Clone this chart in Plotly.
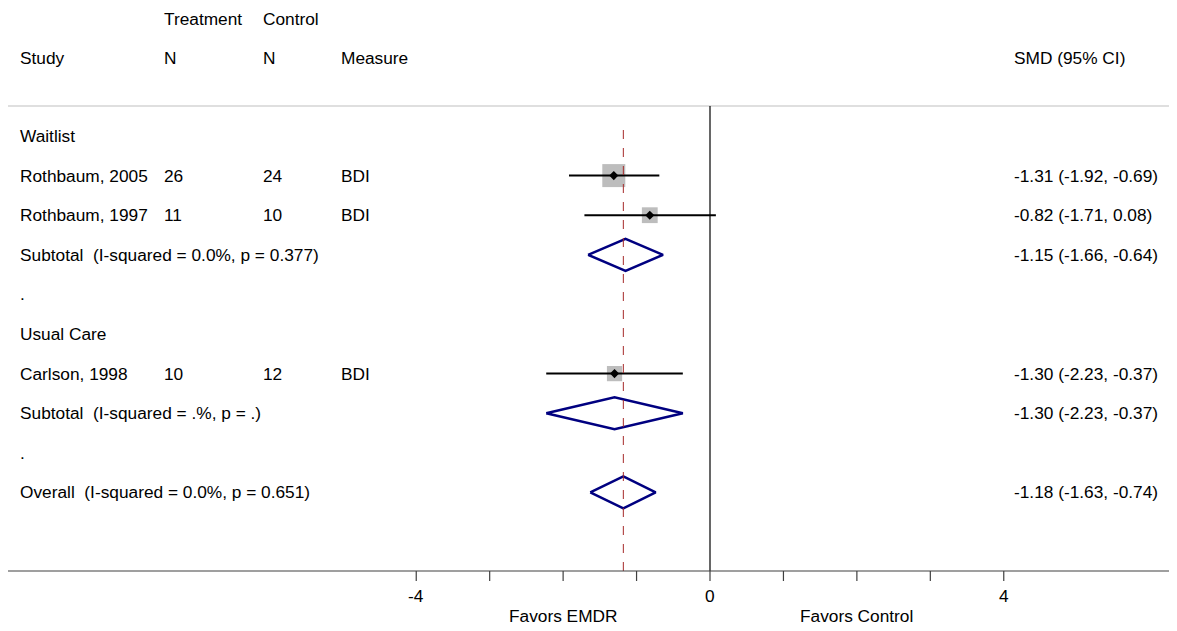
import plotly.graph_objects as go
import math

# ---------------- data ----------------
group_names = ["Waitlist", "Usual Care"]
study_labels = ["Rothbaum, 2005", "Rothbaum, 1997", "Carlson, 1998"]
study_group = [0, 0, 1]
treat_n = [26, 11, 10]
ctrl_n = [24, 10, 12]
measures = ["BDI", "BDI", "BDI"]
smd = [-1.31, -0.82, -1.30]
ci_lo = [-1.92, -1.71, -2.23]
ci_hi = [-0.69, 0.08, -0.37]
weights = [52.3, 24.7, 22.9]

sub_labels = ["Subtotal  (I-squared = 0.0%, p = 0.377)", "Subtotal  (I-squared = .%, p = .)"]
sub_smd = [-1.15, -1.30]
sub_lo = [-1.66, -2.23]
sub_hi = [-0.64, -0.37]

overall_label = "Overall  (I-squared = 0.0%, p = 0.651)"
overall_smd = -1.18
overall_lo = -1.63
overall_hi = -0.74

tick_vals = [-4, -3, -2, -1, 0, 1, 2, 3, 4]
tick_labels = ["-4", "", "", "", "0", "", "", "", "4"]
favors_labels = ["Favors EMDR", "Favors Control"]
favors_pos = [-2, 2]

# ---------------- layout helpers ----------------
W, H = 1177, 631
OFF = 8  # page body margin
X0PX = 710.0
PXU = 73.44  # pixels per unit


def px(p):
    return (p - X0PX) / PXU


FONT = "Liberation Sans, Arial, sans-serif"
FS = 17.3
ROW0 = 136.0
STEP = 39.6
DIAMOND_COLOR = "#000080"
BOX_COLOR = "#bdbdbd"

# row sequence
rows = []
for g, gname in enumerate(group_names):
    rows.append(("group", g))
    for i in range(len(study_labels)):
        if study_group[i] == g:
            rows.append(("study", i))
    rows.append(("sub", g))
    rows.append(("dot", None))
rows.append(("overall", None))

fig = go.Figure()
annotations = []
shapes = []


def text(xp, y, s, anchor="left"):
    annotations.append(dict(x=px(xp), y=y, xref="x", yref="y", text=s, showarrow=False,
                            xanchor=anchor, yanchor="middle",
                            font=dict(family=FONT, size=FS, color="black")))


def fmt(e, l, h):
    return f"{e:.2f} ({l:.2f}, {h:.2f})"


# headers
text(162, 19, "Treatment")
text(261, 19, "Control")
text(18, 58, "Study")
text(162, 58, "N")
text(261, 58, "N")
text(339, 58, "Measure")
text(1012, 58, "SMD (95% CI)")

# header separator
shapes.append(dict(type="line", xref="x", yref="y", x0=px(8), x1=px(W), y0=106, y1=106,
                   line=dict(color="#c0c0c0", width=1.2)))

# zero line and overall dashed line
shapes.append(dict(type="line", xref="x", yref="y", x0=0, x1=0, y0=106, y1=571,
                   line=dict(color="black", width=1.2)))
shapes.append(dict(type="line", xref="x", yref="y", x0=overall_smd, x1=overall_smd, y0=130, y1=571,
                   line=dict(color="#a52a2a", width=1, dash="dash")))

DH = 16  # diamond half height in px


def diamond(e, l, h, y):
    fig.add_trace(go.Scatter(x=[l, e, h, e, l], y=[y, y - DH, y, y + DH, y], mode="lines",
                             line=dict(color=DIAMOND_COLOR, width=2.5), hoverinfo="skip",
                             showlegend=False))


for r, (kind, idx) in enumerate(rows):
    y = ROW0 + r * STEP
    if kind == "group":
        text(18, y, group_names[idx])
    elif kind == "dot":
        text(18, y, ".")
    elif kind == "study":
        text(18, y, study_labels[idx])
        text(162, y, str(treat_n[idx]))
        text(261, y, str(ctrl_n[idx]))
        text(339, y, measures[idx])
        text(1012, y, fmt(smd[idx], ci_lo[idx], ci_hi[idx]))
        side = 3.18 * math.sqrt(weights[idx])
        hw = side / 2 / PXU
        shapes.append(dict(type="rect", xref="x", yref="y", x0=smd[idx] - hw, x1=smd[idx] + hw,
                           y0=y - side / 2, y1=y + side / 2, fillcolor=BOX_COLOR,
                           line=dict(width=0), layer="below"))
        fig.add_trace(go.Scatter(x=[ci_lo[idx], ci_hi[idx]], y=[y, y], mode="lines",
                                 line=dict(color="black", width=2), hoverinfo="skip",
                                 showlegend=False))
        fig.add_trace(go.Scatter(x=[smd[idx]], y=[y], mode="markers",
                                 marker=dict(symbol="diamond", size=7, color="black"),
                                 hoverinfo="skip", showlegend=False))
    elif kind == "sub":
        text(18, y, sub_labels[idx])
        text(1012, y, fmt(sub_smd[idx], sub_lo[idx], sub_hi[idx]))
        diamond(sub_smd[idx], sub_lo[idx], sub_hi[idx], y)
    elif kind == "overall":
        text(18, y, overall_label)
        text(1012, y, fmt(overall_smd, overall_lo, overall_hi))
        diamond(overall_smd, overall_lo, overall_hi, y)

# x axis line, ticks and labels
AXY = 571
shapes.append(dict(type="line", xref="x", yref="y", x0=px(8), x1=px(W), y0=AXY, y1=AXY,
                   line=dict(color="#404040", width=1.2)))
for tv, tl in zip(tick_vals, tick_labels):
    shapes.append(dict(type="line", xref="x", yref="y", x0=tv, x1=tv, y0=AXY, y1=AXY + 10,
                       line=dict(color="#404040", width=1.2)))
    if tl:
        annotations.append(dict(x=tv, y=596, xref="x", yref="y", text=tl, showarrow=False,
                                xanchor="center", yanchor="middle",
                                font=dict(family=FONT, size=FS, color="black")))
for fl, fp in zip(favors_labels, favors_pos):
    annotations.append(dict(x=fp, y=616, xref="x", yref="y", text=fl, showarrow=False,
                            xanchor="center", yanchor="middle",
                            font=dict(family=FONT, size=FS, color="black")))

# The page body has an 8px margin: draw the figure in the remaining area,
# with the axes ranges chosen so that data y equals the screen pixel row.
fig.update_layout(
    width=W - OFF, height=H - OFF,
    margin=dict(l=0, r=0, t=0, b=0),
    paper_bgcolor="white", plot_bgcolor="white",
    xaxis=dict(range=[px(OFF), px(W)], visible=False, fixedrange=True),
    yaxis=dict(range=[H, OFF], visible=False, fixedrange=True),
    shapes=shapes,
    annotations=annotations,
    showlegend=False,
)

fig.write_html("out.html")
